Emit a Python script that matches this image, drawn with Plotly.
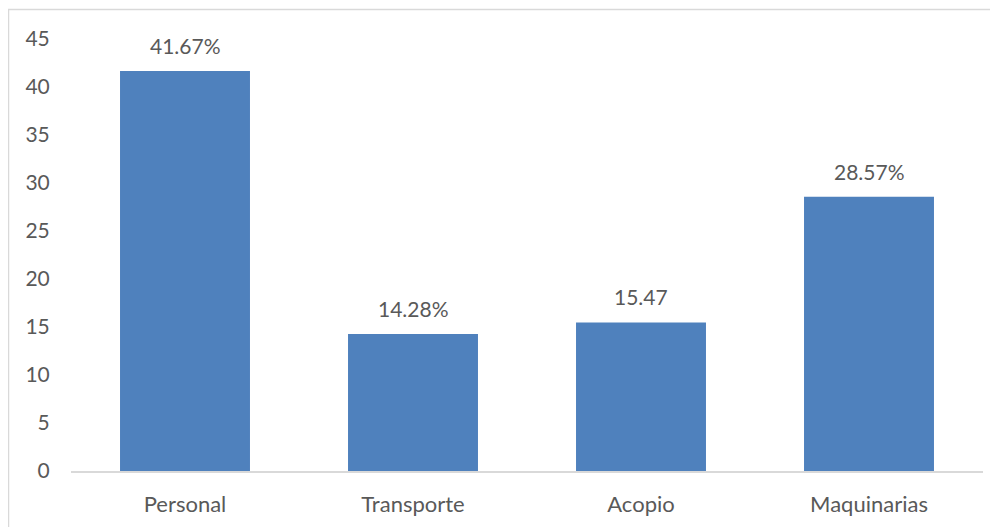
import plotly.graph_objects as go

categories = ["Personal", "Transporte", "Acopio", "Maquinarias"]
values = [41.67, 14.28, 15.47, 28.57]
labels = ["41.67%", "14.28%", "15.47", "28.57%"]
y_ticks = [0, 5, 10, 15, 20, 25, 30, 35, 40, 45]

OFF = 8  # page body margin
W, H = 998 - OFF, 527 - OFF
L, R, T, B = 71 - OFF, 15, 39 - OFF, 56
pw, ph = W - L - R, H - T - B

FONT = "Lato"
GREY = "#595959"

fig = go.Figure(go.Bar(
    x=categories, y=values,
    marker=dict(color="#4F81BD", line=dict(width=0)),
))

for c, v, t in zip(categories, values, labels):
    fig.add_annotation(x=c, y=v, text=t, showarrow=False, yanchor="bottom",
                       yshift=11, font=dict(family=FONT, size=21, color=GREY))

fig.update_layout(
    width=W, height=H,
    margin=dict(l=L, r=R, t=T, b=B, autoexpand=False),
    paper_bgcolor="white", plot_bgcolor="white",
    bargap=0.43,
    showlegend=False,
    font=dict(family=FONT, size=21, color=GREY),
    xaxis=dict(showline=True, linecolor="#D9D9D9", linewidth=1.5, automargin=False,
               ticks="outside", ticklen=13, tickcolor="rgba(0,0,0,0)",
               showgrid=False, tickfont=dict(family=FONT, size=22, color=GREY)),
    yaxis=dict(range=[0, 45], tickvals=y_ticks, showgrid=False, zeroline=False,
               automargin=False,
               showline=False, ticks="outside", ticklen=16, tickcolor="rgba(0,0,0,0)",
               tickfont=dict(family=FONT, size=21, color=GREY)),
)

fig.add_shape(type="rect", xref="paper", yref="paper",
              x0=(0.5 - L) / pw, x1=(W + 5 - L) / pw,
              y0=-(H + 5 - (T + ph)) / ph, y1=1 + (T - 1.5) / ph,
              line=dict(color="#D9D9D9", width=1.5), fillcolor="rgba(0,0,0,0)",
              layer="below")

fig.write_html("out.html")
